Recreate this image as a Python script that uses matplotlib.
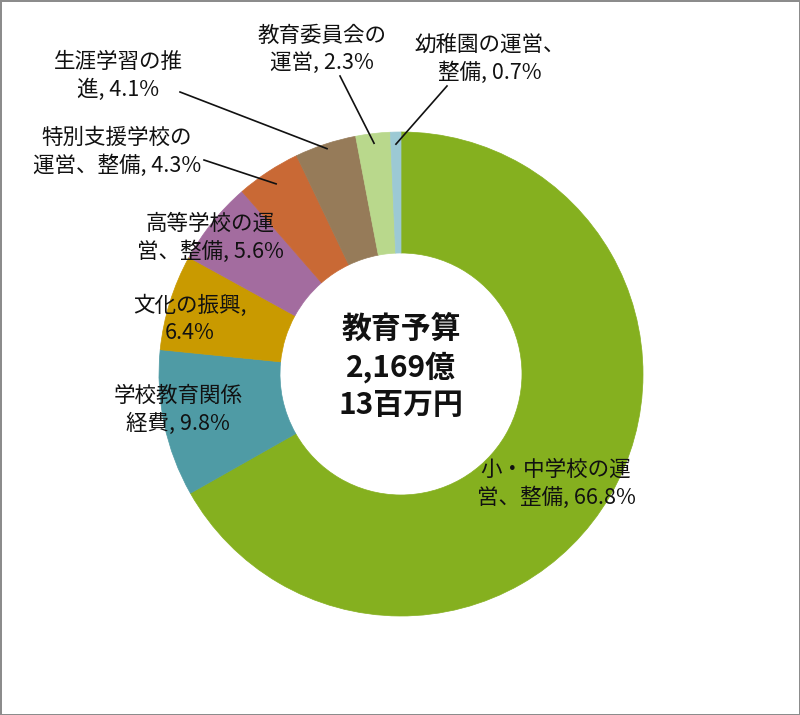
import numpy as np
import matplotlib
matplotlib.use("Agg")
import matplotlib.pyplot as plt

plt.rcParams['font.family'] = ['Noto Sans CJK JP', 'DejaVu Sans']

# data, clockwise from 12 o'clock
labels = ["小・中学校の運\n営、整備, 66.8%", "学校教育関係\n経費, 9.8%", "文化の振興,\n6.4%",
          "高等学校の運\n営、整備, 5.6%", "特別支援学校の\n運営、整備, 4.3%", "生涯学習の推\n進, 4.1%",
          "教育委員会の\n運営, 2.3%", "幼稚園の運営、\n整備, 0.7%"]
shares = [66.8, 9.8, 6.4, 5.6, 4.3, 4.1, 2.3, 0.7]
colors = ["#85B01F", "#4F9BA5", "#C99A00", "#A36C9F", "#C96935",
          "#967B59", "#B9D88C", "#9CC9D4"]
center_text = "教育予算\n2,169億\n13百万円"

W, H = 800, 715
cx, cy, R = 401, 374, 242

# label anchor (pixel coords, top-left origin), leader start and radial fraction
label_pos = [(556, 484), (178, 410), (190, 319), (210, 238), (117, 152),
             (118, 76), (322, 49), (490, 59)]
leader_from = [None, None, None, None, (204, 160), (180, 92), (340, 76), (447, 86)]
leader_r = [None, None, None, None, 0.94, 0.98, 0.96, 0.95]

fig = plt.figure(figsize=(W / 100, H / 100), dpi=100, edgecolor="#8c8c8c", linewidth=2)
ax = fig.add_axes([0, 0, 1, 1])

wedges, _ = ax.pie(shares, colors=colors, startangle=90, counterclock=False,
                   center=(cx, H - cy), radius=R, frame=True,
                   wedgeprops=dict(width=R * 0.5, linewidth=0.5))
for w, c in zip(wedges, colors):
    w.set_edgecolor(c)
ax.set_xlim(0, W)
ax.set_ylim(0, H)
ax.set_aspect("equal")
ax.axis("off")

for i, w in enumerate(wedges):
    x, y = label_pos[i]
    ax.text(x, H - y, labels[i], ha="center", va="center", fontsize=15.5,
            color="#111111", linespacing=1.3)
    if leader_from[i] is not None:
        th = np.deg2rad((w.theta1 + w.theta2) / 2)
        r = R * leader_r[i]
        px, py = cx + r * np.cos(th), (H - cy) + r * np.sin(th)
        lx, ly = leader_from[i]
        ax.plot([lx, px], [H - ly, py], color="#111111", linewidth=1.2)

ax.text(cx, H - 367, center_text, ha="center", va="center", fontsize=21.5,
        fontweight="bold", color="#111111", linespacing=1.28)

fig.savefig("out.png", dpi=100, edgecolor=fig.get_edgecolor(), facecolor="white")
